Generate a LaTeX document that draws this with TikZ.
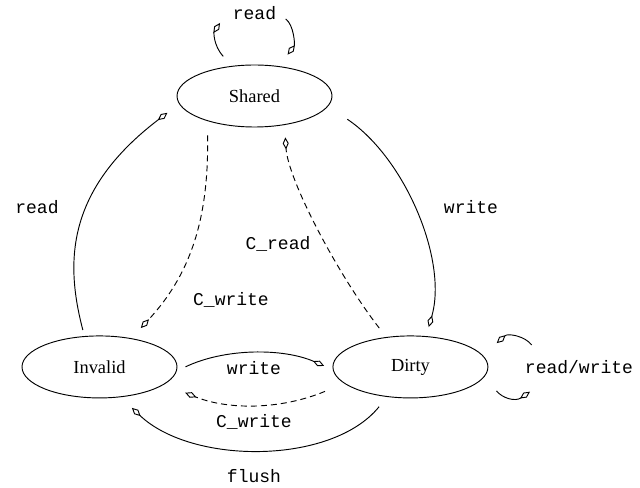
\documentclass[tikz,border=0pt]{standalone}
\usepackage{fontspec}
\setmainfont{Liberation Serif}
\setmonofont{Liberation Mono}
\usetikzlibrary{arrows.meta,positioning,shapes.geometric}

\begin{document}
\begin{tikzpicture}
        [x=0.75pt, y=-0.75pt, line width=0.7pt,
         state/.style={ellipse, draw, inner sep=0pt, minimum width=116.25pt,
                       minimum height=46.5pt, font=\fontsize{13.8}{16}\selectfont},
         move/.style={-{Diamond[open, length=9pt, width=4.5pt]}},
         snoop/.style={move, dash pattern=on 4.5pt off 3pt},
         lbl/.style={anchor=base, font=\ttfamily\fontsize{13.5}{16}\selectfont}]

        \useasboundingbox (0,0) rectangle (640,488);

        \node[state] (shared) at (254.5,96) {Shared};
        \node[state] (invalid) [below=156pt of shared, xshift=-116.25pt] {Invalid};
        \node[state] (dirty) [right=116.25pt of invalid] {Dirty};

        % free ends of the two self loops
        \coordinate (shared loop out) at (220,23);
        \coordinate (shared loop in) at (285.7,19);
        \coordinate (dirty loop in) at (531.7,345);
        \coordinate (dirty loop out) at (530,391.7);

        \draw[move, shorten <=4.7pt, shorten >=11pt] (invalid.116)
                .. controls (65,262) and (66,190) .. (shared.186);
        \draw[snoop, shorten <=10.7pt, shorten >=10.4pt] (shared.208)
                .. controls (209,220) and (190,275) .. (invalid.42);
        \draw[snoop, shorten <=8.5pt, shorten >=9.3pt] (dirty.129)
                .. controls (338,275) and (288,180) .. (shared.-44);
        \draw[move, shorten <=17.4pt, shorten >=7.1pt] (shared.-8)
                .. controls (405,158) and (448,260) .. (dirty.63);
        \draw[move, shorten <=7.2pt, shorten >=7.1pt] (invalid.-3)
                .. controls (225,348) and (283,348) .. (dirty.182);
        \draw[snoop, shorten <=15.5pt, shorten >=16.8pt] (dirty.194)
                .. controls (280,410) and (228,410) .. (invalid.-15);
        \draw[move, shorten <=9.4pt, shorten >=11.6pt] (dirty.232)
                .. controls (332,465) and (192,465) .. (invalid.-55);

        \draw[move, shorten <=9.6pt] (shared.127)
                .. controls (213,45) and (214,32) .. (shared loop out);
        \draw[move, shorten >=10.9pt] (shared loop in)
                .. controls (294,25) and (295,45) .. (shared.51);
        \draw[move, shorten >=13.8pt] (dirty loop in)
                .. controls (525,336) and (508,333) .. (dirty.9);
        \draw[move, shorten <=14pt] (dirty.-7)
                .. controls (502,398) and (515,402) .. (dirty loop out);

        \node[lbl] (read top) at (254.5,20) {read};
        \node[lbl] (read left) at (37,214) {read};
        \node[lbl] (write right) at (471,214) {write};
        \node[lbl] (c read) at (278,250) {C\_read};
        \node[lbl] (c write mid) at (231,306) {C\_write};
        \node[lbl] (write low) at (254,375) {write};
        \node[lbl] (c write low) at (254,428) {C\_write};
        \node[lbl] (flush) at (254,483) {flush};
        \node[lbl] (read write) at (579,374) {read/write};
\end{tikzpicture}
\end{document}
